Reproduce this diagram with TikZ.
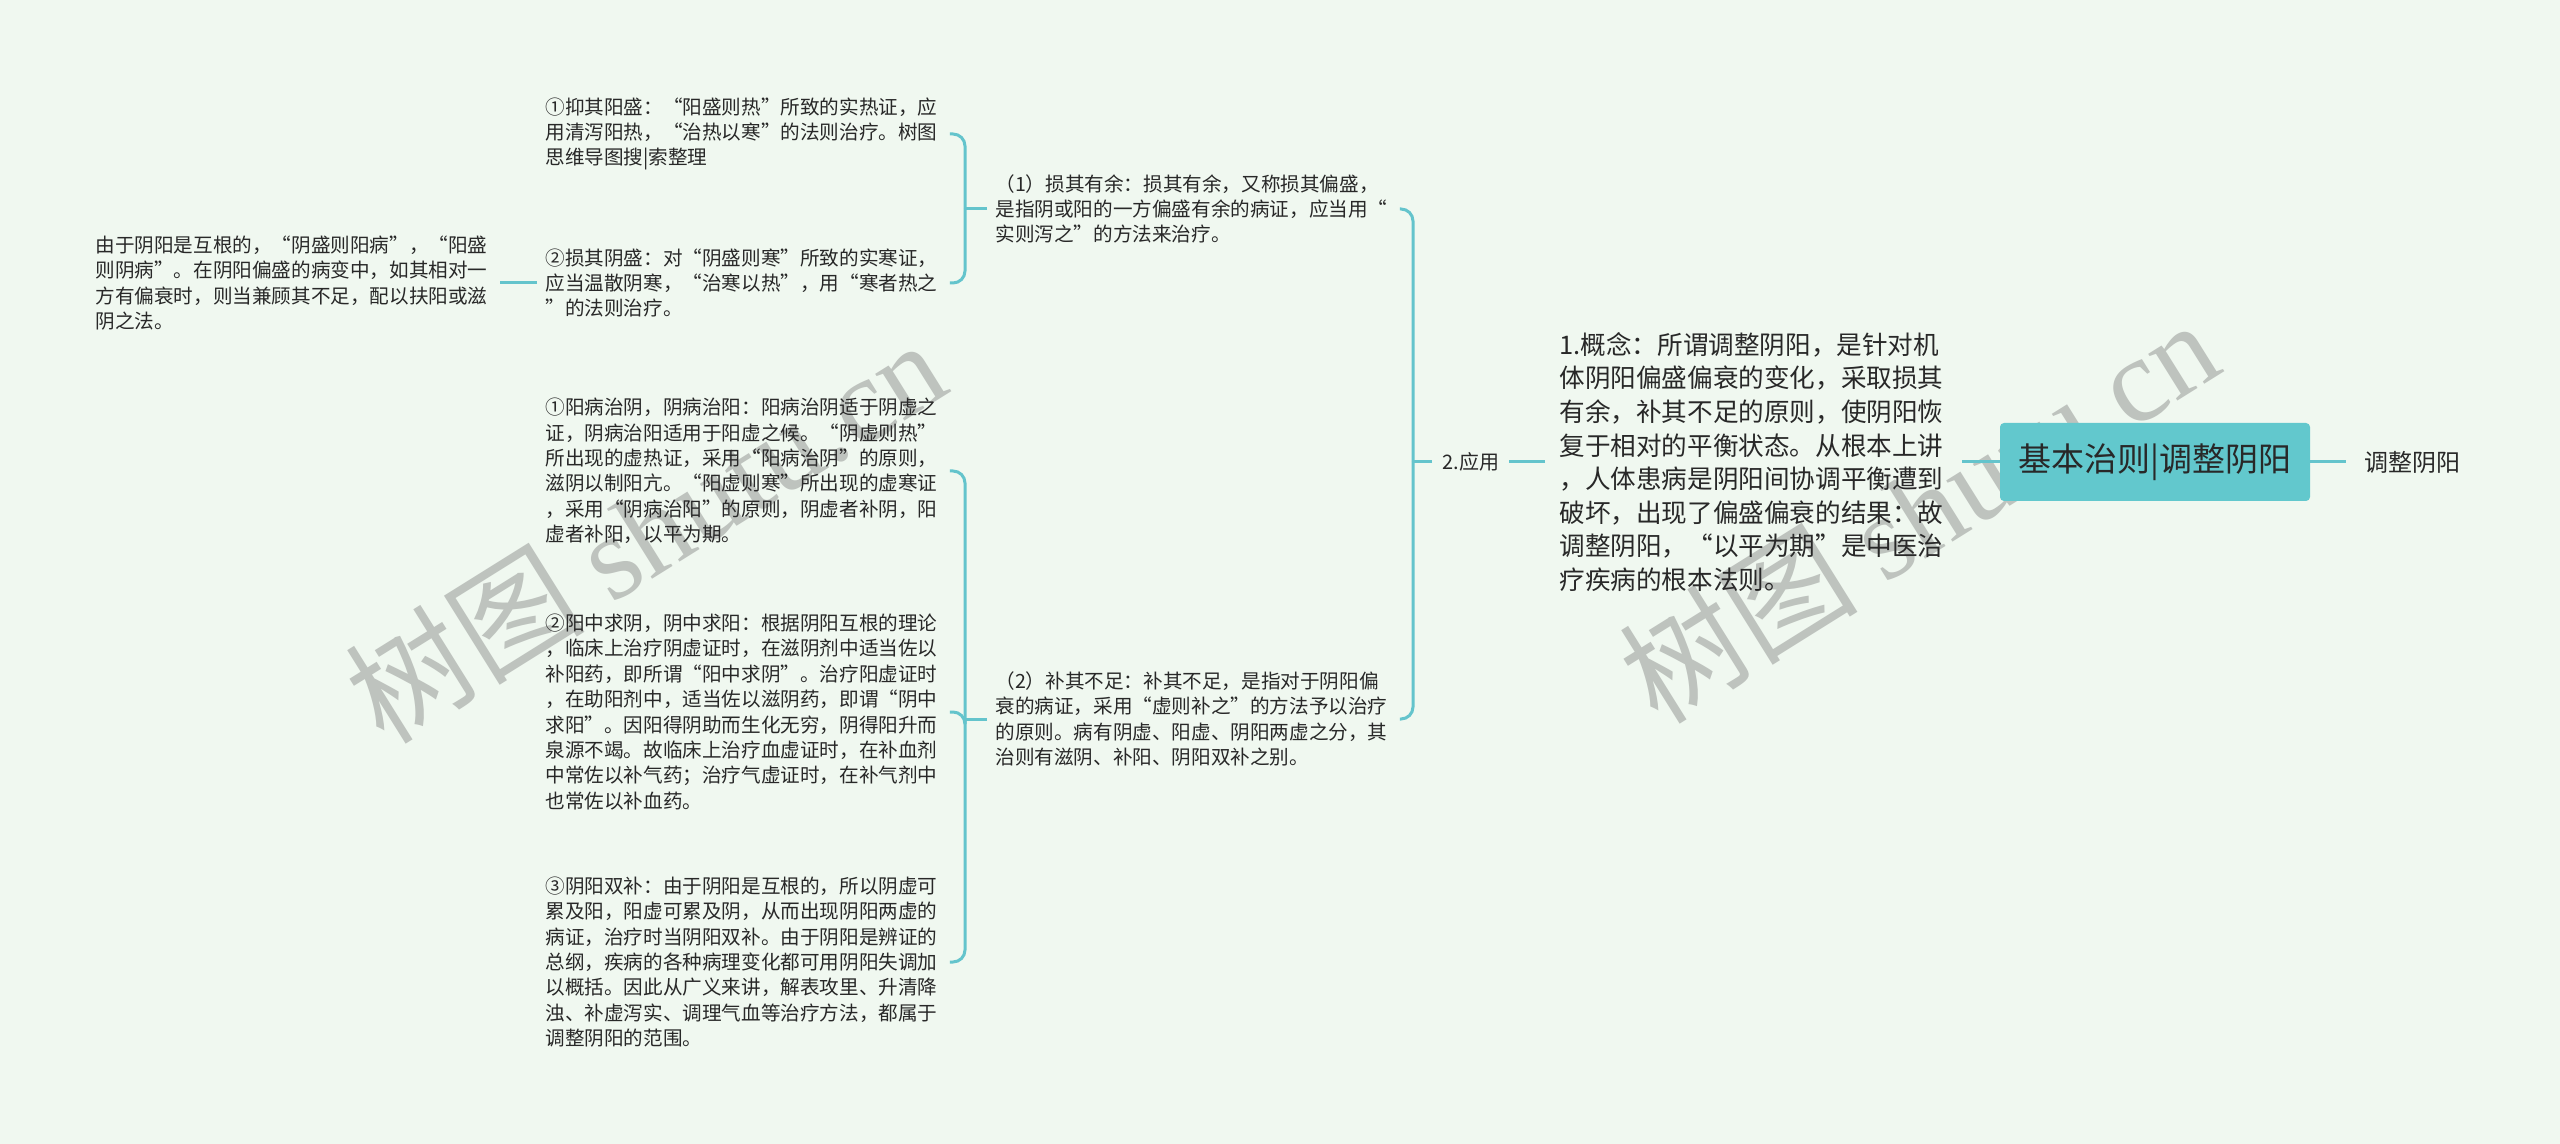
\documentclass[tikz,border=0pt]{standalone}
\usepackage{fontspec}
\setmainfont{Noto Sans CJK SC}
\newfontfamily\latinwm{Liberation Serif}
\definecolor{paper}{RGB}{240,248,240}
\definecolor{branch}{RGB}{100,196,204}
\definecolor{rootfill}{RGB}{98,200,205}
\definecolor{ink}{RGB}{40,40,40}
\definecolor{wmgray}{RGB}{190,195,190}

\begin{document}
\begin{tikzpicture}[x=0.5pt, y=-0.5pt,
    leaf/.style={text width=198pt, inner xsep=4pt, inner ysep=2pt,
      align=left, text=ink, font=\fontsize{9.8}{12.7}\selectfont},
    link/.style={draw=branch, line width=1.5pt, rounded corners=6pt}]
  \fill[paper] (0,0) rectangle (2560,1144);
  \useasboundingbox (0,0) rectangle (2560,1144);

  % watermarks
  \begin{scope}[every node/.style={text=wmgray, rotate=32, inner sep=0pt,
      font=\fontsize{60}{60}\selectfont}]
    \node (wm1) at (645,530) {树图 {\latinwm shutu.cn}};
    \node (wm2) at (1918,510) {树图 {\latinwm shutu.cn}};
  \end{scope}

  \node [fill=rootfill, rounded corners=2pt, minimum width=155pt,
    minimum height=39pt, text=ink, font=\fontsize{16.5}{20}\selectfont]
    (root) at (2155,462) {基本治则|调整阴阳};
  \node [anchor=west, inner xsep=9pt, text=ink,
    font=\fontsize{12}{14}\selectfont] (topic) at (2346,462) {调整阴阳};
  \node [anchor=west, text width=194pt, inner xsep=7pt, align=left, text=ink,
    font=\fontsize{12.8}{16.8}\selectfont] (concept) at (1545,462) {1.概念：所谓调整阴阳，是针对机\\
体阴阳偏盛偏衰的变化，采取损其\\
有余，补其不足的原则，使阴阳恢\\
复于相对的平衡状态。从根本上讲\\
，人体患病是阴阳间协调平衡遭到\\
破坏，出现了偏盛偏衰的结果：故\\
调整阴阳，“以平为期”是中医治\\
疗疾病的根本法则。};
  \node [anchor=west, inner xsep=5pt, text=ink,
    font=\fontsize{10}{12}\selectfont] (apply) at (1432,462) {2.应用};

  \begin{scope}[every node/.style={leaf, anchor=west}]
    \node (sunyu) at (987,209) {（1）损其有余：损其有余，又称损其偏盛，\\
是指阴或阳的一方偏盛有余的病证，应当用“\\
实则泻之”的方法来治疗。};
    \node (buzu) at (987,719) {（2）补其不足：补其不足，是指对于阴阳偏\\
衰的病证，采用“虚则补之”的方法予以治疗\\
的原则。病有阴虚、阳虚、阴阳两虚之分，其\\
治则有滋阴、补阳、阴阳双补之别。};
    \node (yiyang) at (537,134) {①抑其阳盛：“阳盛则热”所致的实热证，应\\
用清泻阳热，“治热以寒”的法则治疗。树图\\
思维导图搜|索整理};
    \node (sunyin) at (537,283) {②损其阴盛：对“阴盛则寒”所致的实寒证，\\
应当温散阴寒，“治寒以热”，用“寒者热之\\
”的法则治疗。};
    \node (yangbing) at (537,471) {①阳病治阴，阴病治阳：阳病治阴适于阴虚之\\
证，阴病治阳适用于阳虚之候。“阴虚则热”\\
所出现的虚热证，采用“阳病治阴”的原则，\\
滋阴以制阳亢。“阳虚则寒”所出现的虚寒证\\
，采用“阴病治阳”的原则，阴虚者补阴，阳\\
虚者补阳，以平为期。};
    \node (yangzhong) at (537,712) {②阳中求阴，阴中求阳：根据阴阳互根的理论\\
，临床上治疗阴虚证时，在滋阴剂中适当佐以\\
补阳药，即所谓“阳中求阴”。治疗阳虚证时\\
，在助阳剂中，适当佐以滋阴药，即谓“阴中\\
求阳”。因阳得阴助而生化无穷，阴得阳升而\\
泉源不竭。故临床上治疗血虚证时，在补血剂\\
中常佐以补气药；治疗气虚证时，在补气剂中\\
也常佐以补血药。};
    \node (shuangbu) at (537,962) {③阴阳双补：由于阴阳是互根的，所以阴虚可\\
累及阳，阳虚可累及阴，从而出现阴阳两虚的\\
病证，治疗时当阴阳双补。由于阴阳是辨证的\\
总纲，疾病的各种病理变化都可用阴阳失调加\\
以概括。因此从广义来讲，解表攻里、升清降\\
浊、补虚泻实、调理气血等治疗方法，都属于\\
调整阴阳的范围。};
    \node (hugen) at (87,283) {由于阴阳是互根的，“阴盛则阳病”，“阳盛\\
则阴病”。在阴阳偏盛的病变中，如其相对一\\
方有偏衰时，则当兼顾其不足，配以扶阳或滋\\
阴之法。};
  \end{scope}

  \begin{scope}[link]
    \draw (root) -- (topic);
    \draw (root) -- (concept);
    \draw (concept) -- (apply);
    \draw (apply.west) -- ++(-19,0);
    \draw (apply.west) ++(-19,0) |- (sunyu.east);
    \draw (apply.west) ++(-19,0) |- (buzu.east);
    \draw (sunyu.west) -- ++(-22,0);
    \draw (sunyu.west) ++(-22,0) |- (yiyang.east);
    \draw (sunyu.west) ++(-22,0) |- (sunyin.east);
    \draw (sunyin) -- (hugen);
    \draw (buzu.west) -- ++(-22,0);
    \draw (buzu.west) ++(-22,0) |- (yangbing.east);
    \draw (buzu.west) ++(-22,0) |- (yangzhong.east);
    \draw (buzu.west) ++(-22,0) |- (shuangbu.east);
  \end{scope}
\end{tikzpicture}
\end{document}
